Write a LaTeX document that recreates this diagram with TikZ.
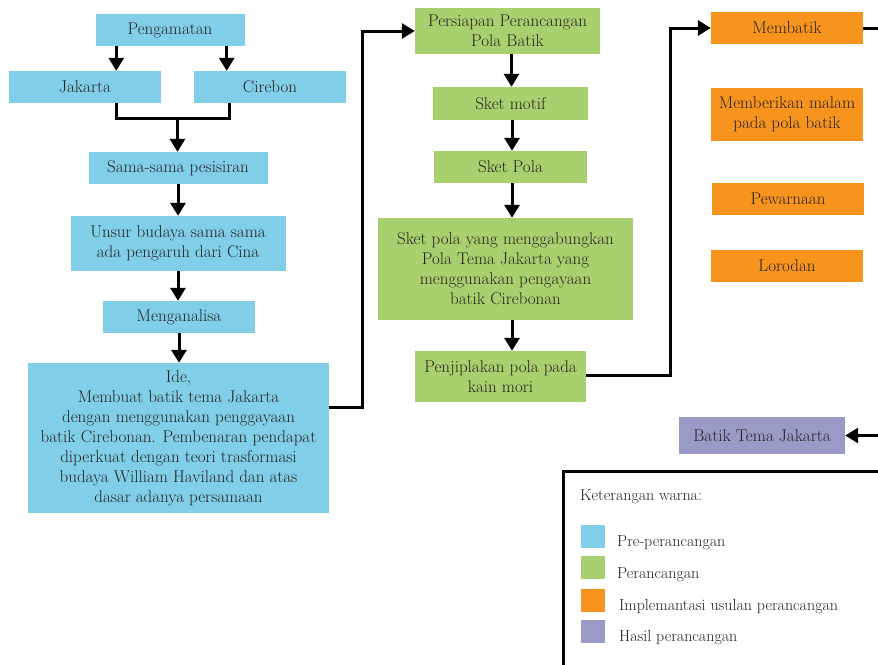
\documentclass[tikz,border=0pt]{standalone}
\usepackage{tikz}
\usepackage{xcolor}
\usetikzlibrary{positioning, arrows.meta, calc}

\definecolor{prablue}{HTML}{80CEE8}
\definecolor{rangreen}{HTML}{A9D06F}
\definecolor{imporange}{HTML}{F7941E}
\definecolor{haspurple}{HTML}{9A9AC6}
\definecolor{inkgray}{HTML}{26221F}

\tikzset{
    box/.style={rectangle, inner sep=0pt, align=center, text=inkgray},
    pra/.style={box, fill=prablue},
    ran/.style={box, fill=rangreen},
    imp/.style={box, fill=imporange},
    has/.style={box, fill=haspurple},
    link/.style={line width=3pt, black},
    arr/.style={link, -{Triangle[length=13pt, width=15pt]}},
    swatch/.style={rectangle, inner sep=0pt, minimum width=24pt, minimum height=23pt},
    legtext/.style={anchor=west, inner sep=0pt, text=inkgray, font=\fontsize{16}{19}\selectfont}
}

\begin{document}
\begin{tikzpicture}[x=1pt, y=-1pt, font=\fontsize{17}{20}\selectfont]
        \clip (0,0) rectangle (878,664);
        \fill[white] (0,0) rectangle (878,664);

        \node[pra, minimum width=149pt, minimum height=32pt] (peng) at (170,30) {Pengamatan};
        \node[pra, minimum width=152pt, minimum height=32pt] (jak) at (85,87) {Jakarta};
        \node[pra, minimum width=152pt, minimum height=32pt] (cir) at (270,87) {Cirebon};
        \node[pra, minimum width=179pt, minimum height=32pt] (sama) at (178,168) {Sama-sama pesisiran};
        \node[pra, minimum width=215pt, minimum height=55pt] (unsur) at (178,243.5) {Unsur budaya sama sama\\ada pengaruh dari Cina};
        \node[pra, minimum width=152pt, minimum height=32pt] (analisa) at (179,317) {Menganalisa};
        \node[pra, minimum width=301pt, minimum height=150pt] (ide) at (178.5,438) {Ide,\\Membuat batik tema Jakarta\\dengan menggunakan penggayaan\\batik Cirebonan. Pembenaran pendapat\\diperkuat dengan teori trasformasi\\budaya William Haviland dan atas\\dasar adanya persamaan};

        \node[ran, minimum width=185pt, minimum height=46pt] (siap) at (507.5,31) {Persiapan Perancangan\\Pola Batik};
        \node[ran, minimum width=155pt, minimum height=33pt] (motif) at (510.5,103.5) {Sket motif};
        \node[ran, minimum width=153pt, minimum height=32pt] (sketpola) at (510.5,167) {Sket Pola};
        \node[ran, minimum width=255pt, minimum height=102pt] (gabung) at (505.5,269) {Sket pola yang menggabungkan\\Pola Tema Jakarta yang\\menggunakan pengayaan\\batik Cirebonan};
        \node[ran, minimum width=171pt, minimum height=51pt] (jiplak) at (500.5,376.5) {Penjiplakan pola pada\\kain mori};

        \node[imp, minimum width=152pt, minimum height=32pt] (batik) at (787,28) {Membatik};
        \node[imp, minimum width=152pt, minimum height=53pt] (malam) at (787,114.5) {Memberikan malam\\pada pola batik};
        \node[imp, minimum width=152pt, minimum height=32pt] (warna) at (788,199) {Pewarnaan};
        \node[imp, minimum width=152pt, minimum height=32pt] (lorod) at (787,266) {Lorodan};

        \node[has, minimum width=166pt, minimum height=37pt] (hasil) at (762,435.5) {Batik Tema Jakarta};

        \coordinate (join) at (177.5,118);
        \coordinate (edgetop) at (890,28);
        \coordinate (edgebot) at (890,435.5);

        \draw[arr] ([xshift=21pt]peng.south west) -- ([xshift=21pt]peng.south west |- jak.north);
        \draw[arr] ([xshift=-18pt]peng.south east) -- ([xshift=-18pt]peng.south east |- cir.north);
        \draw[link] ([xshift=108pt]jak.south west) |- (join) -| ([xshift=36pt]cir.south west);
        \draw[arr] (join) -- (sama.north -| join);
        \draw[arr] (sama) -- (unsur);
        \draw[arr] (unsur) -- (unsur.south |- analisa.north);
        \draw[arr] (analisa) -- (analisa.south |- ide.north);
        \draw[arr] ([yshift=31pt]ide.east) -- ++(33,0) |- (siap.west);

        \draw[arr] ([xshift=4pt]siap.south) -- ([xshift=4pt]siap.south |- motif.north);
        \draw[arr] ([xshift=1.5pt]motif.south) -- ([xshift=1.5pt]motif.south |- sketpola.north);
        \draw[arr] ([xshift=1.5pt]sketpola.south) -- ([xshift=1.5pt]sketpola.south |- gabung.north);
        \draw[arr] ([xshift=6.5pt]gabung.south) -- ([xshift=6.5pt]gabung.south |- jiplak.north);
        \draw[arr] ([yshift=1.5pt]jiplak.east) -- ++(84,0) |- (batik.west);

        \draw[link] (batik.east) -- (edgetop);
        \draw[arr] (edgebot) -- (hasil.east);

        \draw[line width=3pt] (563,471) rectangle (900,700);
        \node[legtext] (ket) at (580,497) {Keterangan warna:};
        \node[swatch, fill=prablue] (sw1) at (593,536.5) {};
        \node[swatch, fill=rangreen] (sw2) at (593,567.5) {};
        \node[swatch, fill=imporange] (sw3) at (593,600) {};
        \node[swatch, fill=haspurple] (sw4) at (593,631.5) {};
        \node[legtext] (leg1) at (617,543) {Pre-perancangan};
        \node[legtext] (leg2) at (617,575) {Perancangan};
        \node[legtext] (leg3) at (619,606.5) {Implemantasi usulan perancangan};
        \node[legtext] (leg4) at (619,638) {Hasil perancangan};
    \end{tikzpicture}
\end{document}
